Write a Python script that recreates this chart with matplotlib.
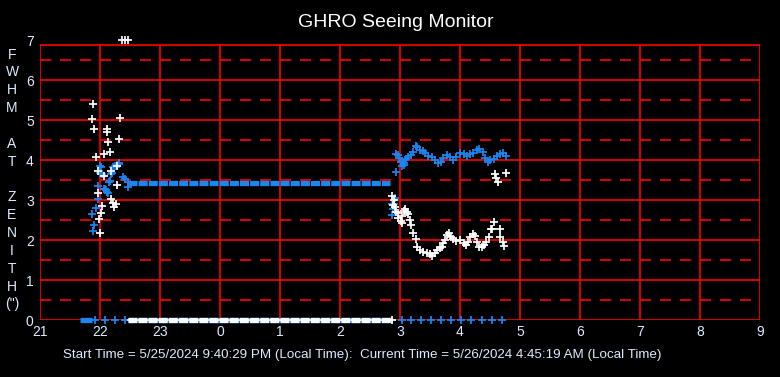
import matplotlib
matplotlib.use("Agg")
import matplotlib.pyplot as plt

plt.rcParams['font.family'] = ['Liberation Sans', 'DejaVu Sans']
plt.rcParams['lines.scale_dashes'] = False

# ---- datos (hora local, 24+ = dia siguiente) ----
hours = list(range(21, 34))
hour_labels = [str(h % 24) for h in hours]

blue_t = [21.87, 21.89, 21.90, 21.93, 21.96, 21.97, 22.00, 22.00, 22.01, 22.02, 22.04, 22.06,
          22.08, 22.10, 22.11, 22.14, 22.15, 22.17, 22.18, 22.20, 22.22, 22.25, 22.28, 22.31,
          22.32, 22.39, 22.42, 22.47, 22.47]
blue_v = [2.64, 2.22, 2.37, 2.80, 3.03, 3.34, 3.84, 3.67, 3.83, 3.67, 3.64, 3.28,
          3.27, 3.25, 3.21, 3.17, 3.45, 3.47, 3.64, 3.67, 3.82, 3.85, 3.87, 3.92,
          3.90, 3.58, 3.52, 3.46, 3.32]

blue_t2 = [26.87, 26.87, 26.89, 26.90, 26.92, 26.93, 26.93, 26.96, 26.99, 27.01, 27.03, 27.04,
           27.06, 27.07, 27.10, 27.14, 27.19, 27.22, 27.27, 27.29, 27.33, 27.39, 27.42, 27.47,
           27.53, 27.58, 27.64, 27.68, 27.72, 27.78, 27.83, 27.89, 27.94, 28.00, 28.06, 28.12,
           28.17, 28.22, 28.28, 28.32, 28.38, 28.42, 28.46, 28.50, 28.56, 28.61, 28.67, 28.72, 28.77]
blue_v2 = [2.62, 2.90, 2.77, 2.89, 3.04, 3.69, 4.15, 4.12, 4.04, 3.96, 3.96, 3.85,
           3.87, 3.92, 4.02, 4.07, 4.12, 4.21, 4.35, 4.33, 4.25, 4.23, 4.18, 4.10,
           4.07, 4.00, 3.93, 3.96, 4.04, 4.12, 4.07, 4.00, 4.08, 4.18, 4.15, 4.10,
           4.15, 4.18, 4.25, 4.27, 4.21, 4.04, 3.96, 4.00, 4.02, 4.10, 4.15, 4.17, 4.10]

# tramo plano azul (inicio, fin, valor)
blue_flat = (22.47, 26.84, 3.42)
# tramos en cero
blue_zero_band = (21.67, 21.87)
white_zero_band = (22.47, 26.86)
blue_zero_t = [21.92, 22.08, 22.25, 22.42, 27.03, 27.18, 27.35, 27.52, 27.68, 27.85,
               28.02, 28.18, 28.37, 28.53, 28.70]

white_t = [21.87, 21.89, 21.90, 21.93, 21.96, 21.97, 21.98, 22.00, 22.01, 22.03, 22.06, 22.07,
           22.11, 22.12, 22.14, 22.16, 22.18, 22.19, 22.22, 22.23, 22.27, 22.28, 22.29, 22.32, 22.34]
white_v = [5.02, 5.39, 4.77, 4.08, 3.73, 3.17, 2.52, 2.18, 2.67, 2.85, 3.60, 4.15,
           4.69, 4.77, 4.45, 4.21, 3.73, 3.02, 2.93, 2.82, 2.90, 3.84, 3.37, 4.52, 5.04]
white_top_t = [22.37, 22.42, 22.46]
white_top_v = [7, 7, 7]

white_t2 = [26.87, 26.90, 26.89, 26.92, 26.94, 26.96, 26.97, 27.01, 27.03, 27.04, 27.07, 27.08,
            27.11, 27.14, 27.16, 27.19, 27.22, 27.27, 27.29, 27.33, 27.39, 27.45, 27.50, 27.54,
            27.58, 27.61, 27.66, 27.70, 27.72, 27.75, 27.78, 27.81, 27.85, 27.89, 27.94, 28.00,
            28.06, 28.10, 28.14, 28.17, 28.21, 28.25, 28.28, 28.32, 28.36, 28.40, 28.44, 28.49,
            28.52, 28.54, 28.56, 28.66, 28.67, 28.71, 28.73, 28.58, 28.60, 28.64, 28.76]
white_v2 = [3.10, 3.00, 2.87, 2.83, 2.71, 2.68, 2.54, 2.48, 2.43, 2.60, 2.73, 2.77,
            2.71, 2.65, 2.50, 2.37, 2.17, 2.02, 1.83, 1.75, 1.71, 1.68, 1.65, 1.60,
            1.67, 1.75, 1.79, 1.83, 1.92, 2.00, 2.13, 2.17, 2.08, 2.02, 1.98, 2.00,
            1.92, 1.87, 1.96, 2.08, 2.15, 2.10, 1.96, 1.83, 1.82, 1.87, 1.96, 2.08,
            2.27, 2.28, 2.44, 2.27, 2.07, 1.96, 1.85, 3.64, 3.56, 3.44, 3.67]
white_zero_t = [26.87]

BLUE = "#1a86f0"
RED = "#ff0000"
LBL = "#dcebff"
mk = dict(marker='+', linestyle='none', markersize=5.2, markeredgewidth=1.25)

fig = plt.figure(figsize=(7.8, 3.77), dpi=100, facecolor='black')
ax = fig.add_axes([40/780, 57/377, 720/780, 280/377])
ax.set_facecolor('black')
ax.set_xlim(21, 33)
ax.set_ylim(0, 7)
top = 6.875

# rejilla
ax.vlines(hours, 0, top, color=RED, lw=1.2, zorder=1)
ax.hlines(range(0, 7), 21, 33, color=RED, lw=1.2, zorder=1)
ax.hlines([top], 21, 33, color=RED, lw=1.2, zorder=1)
ax.hlines([i + 0.5 for i in range(7)], 21, 33, color=RED, lw=1.2,
          linestyles=[(0, (7.9, 6.5))], zorder=1)
for s in ax.spines.values():
    s.set_visible(False)

# datos
ax.plot([blue_flat[0], blue_flat[1]], [blue_flat[2]] * 2, color=BLUE, lw=3.8,
        dashes=(6.5, 0.8), solid_capstyle='butt', zorder=3)
ax.plot(list(blue_zero_band), [0, 0], color=BLUE, lw=3.8, solid_capstyle='butt',
        zorder=3, clip_on=False)
ax.plot(list(white_zero_band), [0, 0], color=BLUE, lw=3.8, solid_capstyle='butt',
        zorder=3, clip_on=False)
ax.plot(list(white_zero_band), [0, 0], color='white', lw=3.8, dashes=(6.3, 1.0),
        zorder=4, clip_on=False)
ax.plot(list(white_zero_band), [0, 0], color='white', lw=1.2, zorder=4, clip_on=False)

ax.plot(blue_t, blue_v, color=BLUE, zorder=3, **mk)
ax.plot(blue_t2, blue_v2, color=BLUE, zorder=3, **mk)
ax.plot(blue_zero_t, [0] * len(blue_zero_t), color=BLUE, zorder=3, clip_on=False, **mk)
ax.plot(white_t, white_v, color='white', zorder=4, **mk)
ax.plot(white_t2, white_v2, color='white', zorder=4, **mk)
ax.plot(white_zero_t, [0], color='white', zorder=4, clip_on=False, **mk)
ax.plot(white_top_t, white_top_v, color='white', zorder=4, clip_on=False, **mk)

ax.set_xticks(hours)
ax.set_xticklabels(hour_labels)
ax.set_yticks(range(0, 8))
ax.tick_params(length=0, colors=LBL, labelsize=10)
ax.tick_params(axis='x', pad=3.5)
ax.tick_params(axis='y', pad=4.5)

fig.text(0.5077, 0.9416, "GHRO Seeing Monitor", color='white', fontsize=14,
         ha='center', va='center')
fig.text(12/780, 1 - 179.5/377, "F\nW\nH\nM\n\nA\nT\n\nZ\nE\nN\nI\nT\nH\n(\")",
         color=LBL, fontsize=10, ha='center', va='center', linespacing=1.35)
fig.text(362.5/780, 1 - 355/377,
         "Start Time = 5/25/2024 9:40:29 PM (Local Time):  Current Time = 5/26/2024 4:45:19 AM (Local Time)",
         color=LBL, fontsize=9.6, ha='center', va='center')

fig.savefig("out.png", dpi=100, facecolor='black')
